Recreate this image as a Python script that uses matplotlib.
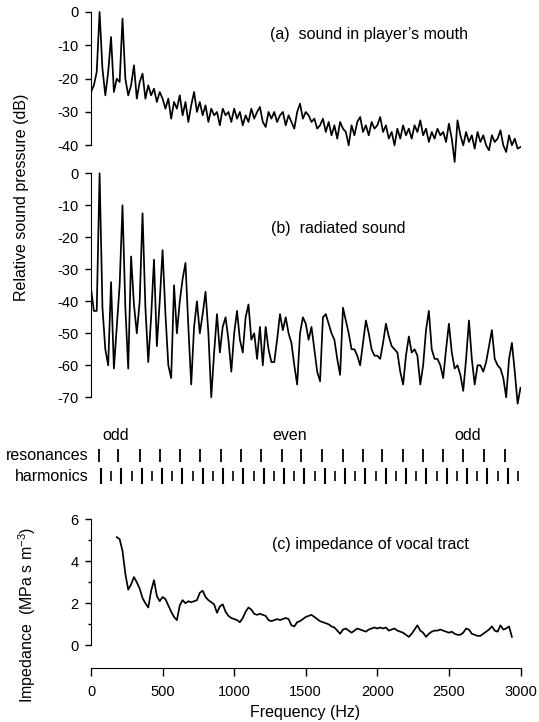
import numpy as np
import matplotlib.pyplot as plt
from matplotlib.ticker import FixedLocator

plt.rcParams['font.family'] = ['Liberation Sans', 'DejaVu Sans']
plt.rcParams['axes.unicode_minus'] = False
plt.rcParams['mathtext.fontset'] = 'custom'
plt.rcParams['mathtext.rm'] = 'Liberation Sans'

# spectra sampled every 20 Hz from 0 to 3000 Hz
freq_step = 20

# (a) sound in player's mouth, dB
mouth_db = [
    -24, -22, -18, 0, -17, -25, -18, -7.5, -24, -20,          # 0-180
    -21, -2, -20, -25, -22, -16, -26, -21, -18.5, -26,        # 200-380
    -22, -25, -23, -27, -24, -26, -29, -26, -32, -27,         # 400-580
    -29, -25, -31, -27, -33, -28, -24, -30, -27, -31,         # 600-780
    -28, -33, -29, -31, -30, -34, -29, -31, -30, -33,         # 800-980
    -29, -32, -30, -34, -31, -33, -29, -32, -30, -28.5,       # 1000-1180
    -33, -34.5, -30, -32, -30, -33, -31, -30, -34, -31,       # 1200-1380
    -33, -35, -30, -27.5, -32, -30, -31, -33, -32, -35,       # 1400-1580
    -34, -32, -36, -33, -37, -34, -38, -33, -35, -36,         # 1600-1780
    -40, -34, -37, -33, -31.5, -36, -34, -37, -33, -35,       # 1800-1980
    -34, -31.5, -36, -34, -38, -36, -40, -35, -38, -34,       # 2000-2180
    -37, -35, -38, -34, -36, -32.5, -37, -35, -39, -36,       # 2200-2380
    -38, -35, -37, -36, -39, -33.5, -38, -45, -32.5, -37,     # 2400-2580
    -40, -36, -39, -37, -41, -36, -39, -37, -40, -41.5,       # 2600-2780
    -37, -39, -38, -35.5, -40, -42, -37, -40, -38, -41,       # 2800-2980
    -40.5,                                                    # 3000
]

# (b) radiated sound, dB
radiated_db = [
    -36, -43, -43, 0, -42, -55, -60, -34, -61, -48,           # 0-180
    -35, -10, -42, -61, -26, -41, -50, -40, -12.5, -42,       # 200-380
    -59, -45, -27, -54, -40, -24, -44, -60, -64, -35,         # 400-580
    -50, -40, -33, -28, -48, -66, -48, -40, -50, -44,         # 600-780
    -37, -50, -70, -56, -44, -56, -48, -45, -52, -62,         # 800-980
    -50, -43, -52, -56, -45, -41, -52, -50, -58, -48,         # 1000-1180
    -60, -48, -55, -59, -59, -52, -44, -49, -45, -50,         # 1200-1380
    -53, -60, -66, -50, -45, -47, -52, -48, -55, -62,         # 1400-1580
    -65, -45, -44, -47, -50, -52, -58, -63, -42, -46,         # 1600-1780
    -50, -55, -55, -57, -60, -53, -46, -50, -55, -57,         # 1800-1980
    -57, -58, -53, -47, -51, -54, -55, -56, -62, -66,         # 2000-2180
    -57, -51, -56, -55, -57, -66, -60, -49, -43, -55,         # 2200-2380
    -58, -58, -60, -64, -55, -47, -56, -61, -60, -63,         # 2400-2580
    -68, -58, -46, -58, -66, -60, -60, -62, -59, -54,         # 2600-2780
    -49, -58, -60, -61, -64, -70, -58, -53, -62, -72,         # 2800-2980
    -67,                                                      # 3000
]

freq = np.arange(len(mouth_db)) * freq_step

# (c) impedance of vocal tract, MPa s m^-3, from 180 Hz upward
imp_start = 180
impedance = [
    5.15, 5.05, 4.5, 3.4, 2.65, 2.9, 3.25, 3.0, 2.7, 2.25,     # 180-360
    2.0, 1.8, 2.6, 3.1, 2.35, 2.1, 2.3, 2.2, 1.9, 1.6,         # 380-560
    1.35, 1.2, 1.9, 2.15, 2.0, 2.1, 2.05, 2.1, 2.15, 2.5,      # 580-760
    2.6, 2.3, 2.15, 2.05, 1.95, 1.55, 1.85, 1.95, 1.6, 1.4,    # 780-960
    1.3, 1.25, 1.2, 1.1, 1.3, 1.6, 1.8, 1.7, 1.5, 1.45,        # 980-1160
    1.5, 1.45, 1.4, 1.2, 1.15, 1.2, 1.25, 1.2, 1.25, 1.3,      # 1180-1360
    1.25, 0.95, 0.9, 1.1, 1.15, 1.25, 1.35, 1.4, 1.45, 1.35,   # 1380-1560
    1.25, 1.15, 1.1, 1.05, 1.0, 0.9, 0.85, 0.7, 0.55, 0.75,    # 1580-1760
    0.8, 0.7, 0.6, 0.7, 0.8, 0.75, 0.7, 0.65, 0.75, 0.8,       # 1780-1960
    0.85, 0.8, 0.85, 0.8, 0.85, 0.7, 0.75, 0.8, 0.7, 0.65,     # 1980-2160
    0.6, 0.5, 0.4, 0.55, 0.75, 0.95, 0.7, 0.6, 0.4, 0.55,      # 2180-2360
    0.65, 0.7, 0.7, 0.75, 0.7, 0.65, 0.6, 0.65, 0.55, 0.5,     # 2380-2560
    0.5, 0.6, 0.8, 0.75, 0.55, 0.5, 0.45, 0.45, 0.55, 0.65,    # 2580-2760
    0.75, 0.9, 0.7, 0.65, 0.95, 0.75, 0.8, 0.9, 0.4,           # 2780-2940
]
imp_freq = imp_start + np.arange(len(impedance)) * freq_step

# bore resonances and drone harmonics (Hz)
resonances = [55, 190, 340, 480, 620, 760, 905, 1050, 1190, 1335, 1465,
              1615, 1760, 1900, 2035, 2180, 2320, 2460, 2600, 2745, 2890]
harmonics = [71, 142, 213, 284, 355, 426, 497, 568, 639, 710, 781, 852,
             923, 994, 1065, 1136, 1207, 1278, 1349, 1420, 1491, 1562,
             1633, 1704, 1775, 1846, 1917, 1988, 2059, 2130, 2201, 2272,
             2343, 2414, 2485, 2556, 2627, 2698, 2769, 2840, 2911, 2982]
harmonic_number = list(range(1, len(harmonics) + 1))
parity_labels = ['odd', 'even', 'odd']
parity_label_freq = [175, 1390, 2633]

fs_tick = 10.5
fs_text = 11.5
lw_curve = 1.25
W, H = 539, 722

fig = plt.figure(figsize=(W / 100, H / 100), dpi=100)


def rect(top_px, bottom_px):
    left = 91 / W
    width = (520.5 - 91) / W
    return [left, 1 - bottom_px / H, width, (bottom_px - top_px) / H]


def style_axis(ax):
    for s in ['top', 'right']:
        ax.spines[s].set_visible(False)
    ax.tick_params(axis='both', labelsize=fs_tick, length=4, width=1,
                   direction='out', pad=5)
    ax.set_xlim(0, 3000)


# panel (a)
ax_a = fig.add_axes(rect(7, 165.3))
style_axis(ax_a)
ax_a.plot(freq, mouth_db, color='black', lw=lw_curve)
ax_a.set_ylim(-46, 1.5)
ax_a.set_yticks([0, -10, -20, -30, -40])
ax_a.spines['left'].set_bounds(-40, 0)
ax_a.spines['bottom'].set_visible(False)
ax_a.set_xticks([])
ax_a.text(1250, -6.9, '(a)  sound in player\u2019s mouth', fontsize=fs_text,
          ha='left', va='center')

# panel (b)
ax_b = fig.add_axes(rect(168.5, 410.1))
style_axis(ax_b)
ax_b.plot(freq, radiated_db, color='black', lw=lw_curve)
ax_b.set_ylim(-74, 1.5)
ax_b.set_yticks([0, -10, -20, -30, -40, -50, -60, -70])
ax_b.spines['left'].set_bounds(-70, 0)
ax_b.spines['bottom'].set_visible(False)
ax_b.set_xticks([])
ax_b.text(1257, -17.4, '(b)  radiated sound', fontsize=fs_text,
          ha='left', va='center')

fig.text(22 / W, 1 - 197 / H, 'Relative sound pressure (dB)', rotation=90,
         fontsize=fs_text, ha='center', va='center')

# resonance / harmonic markers
ax_s = fig.add_axes(rect(425, 490))
ax_s.set_xlim(0, 3000)
ax_s.set_ylim(0, 1)
ax_s.axis('off')
ax_s.vlines(resonances, 0.431, 0.631, color='black', lw=1.3)
long_h = [f for f, n in zip(harmonics, harmonic_number) if n % 2 == 1]
short_h = [f for f, n in zip(harmonics, harmonic_number) if n % 2 == 0]
ax_s.vlines(long_h, 0.092, 0.338, color='black', lw=1.5)
ax_s.vlines(short_h, 0.138, 0.292, color='black', lw=1.2)
ax_s.text(-18, 0.53, 'resonances', fontsize=fs_text, ha='right',
          va='center', clip_on=False)
ax_s.text(-18, 0.215, 'harmonics', fontsize=fs_text, ha='right',
          va='center', clip_on=False)
for lab, f in zip(parity_labels, parity_label_freq):
    ax_s.text(f, 0.846, lab, fontsize=fs_text, ha='center', va='center')

# panel (c)
ax_c = fig.add_axes(rect(513, 668.4))
style_axis(ax_c)
ax_c.plot(imp_freq, impedance, color='black', lw=lw_curve)
ax_c.set_ylim(-1.1, 6.3)
ax_c.set_yticks([0, 2, 4, 6])
ax_c.yaxis.set_minor_locator(FixedLocator([1, 3, 5]))
ax_c.tick_params(axis='y', which='minor', length=2.2, width=1)
ax_c.spines['left'].set_bounds(0, 6)
ax_c.spines['bottom'].set_bounds(0, 3000)
ax_c.set_xticks(np.arange(0, 3001, 500))
ax_c.tick_params(axis='x', length=6, pad=6)
ax_c.text(1264, 4.78, '(c) impedance of vocal tract', fontsize=fs_text,
          ha='left', va='center')

fig.text(27 / W, 1 - 615 / H, 'Impedance  (MPa s m$^{-3}$)', rotation=90,
         fontsize=fs_text, ha='center', va='center')
fig.text(305 / W, 1 - 713 / H, 'Frequency (Hz)', fontsize=fs_text,
         ha='center', va='center')

fig.savefig('out.png', dpi=100)
